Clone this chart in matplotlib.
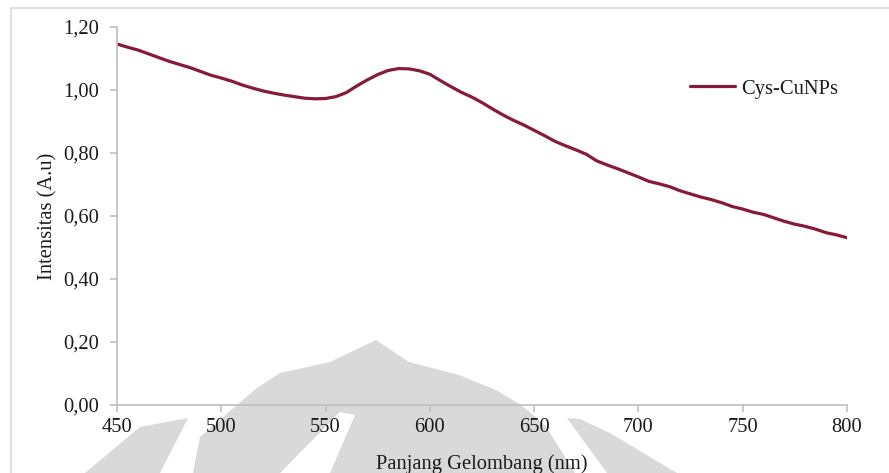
import matplotlib
matplotlib.use("Agg")
import matplotlib.pyplot as plt
from matplotlib.patches import Polygon
from matplotlib.lines import Line2D
from matplotlib.ticker import FuncFormatter, MultipleLocator

# UV-Vis absorption spectrum of cysteine-capped copper nanoparticles
wavelength = [450, 455, 460, 465, 470, 475, 480, 485, 490, 495,
              500, 505, 510, 515, 520, 525, 530, 535, 540, 545,
              550, 555, 560, 565, 570, 575, 580, 585, 590, 595,
              600, 605, 610, 615, 620, 625, 630, 635, 640, 645,
              650, 655, 660, 665, 670, 675, 680, 685, 690, 695,
              700, 705, 710, 715, 720, 725, 730, 735, 740, 745,
              750, 755, 760, 765, 770, 775, 780, 785, 790, 795, 800]
intensity = [1.146, 1.136, 1.127, 1.115, 1.103, 1.091, 1.081, 1.071, 1.059, 1.047,
             1.038, 1.028, 1.016, 1.006, 0.997, 0.990, 0.984, 0.979, 0.974, 0.972,
             0.973, 0.979, 0.992, 1.013, 1.032, 1.049, 1.062, 1.068, 1.067, 1.061,
             1.050, 1.030, 1.011, 0.993, 0.978, 0.960, 0.940, 0.921, 0.904, 0.889,
             0.872, 0.855, 0.837, 0.823, 0.810, 0.796, 0.775, 0.762, 0.750, 0.737,
             0.724, 0.710, 0.702, 0.693, 0.680, 0.670, 0.660, 0.652, 0.642, 0.630,
             0.622, 0.612, 0.605, 0.594, 0.583, 0.574, 0.567, 0.558, 0.547, 0.540, 0.531]
series_name = "Cys-CuNPs"
x_label = "Panjang Gelombang (nm)"
y_label = "Intensitas (A.u)"

W, H = 889, 473
plt.rcParams["font.family"] = ["Liberation Serif", "DejaVu Serif"]
plt.rcParams["font.size"] = 14.8

fig = plt.figure(figsize=(W / 100, H / 100), dpi=100)
fig.patch.set_facecolor("white")


def px(points):
    return [(x / W, 1 - y / H) for x, y in points]


# faint background emblem
emblem_color = "#d9d9d9"
emblem = [
    [(85, 473), (140, 427), (188, 418), (160, 473)],
    [(193, 473), (200, 437), (237, 405), (257, 388), (280, 373), (330, 362),
     (376, 340), (409, 362), (459, 375), (496, 390), (521, 405), (545, 425),
     (575, 473), (330, 473), (355, 415), (340, 412), (280, 473)],
    [(567, 418), (580, 419), (610, 433), (655, 460), (677, 473), (607, 473)],
]
for shape in emblem:
    fig.add_artist(Polygon(px(shape), closed=True, transform=fig.transFigure,
                           facecolor=emblem_color, edgecolor="none", zorder=-5))

# chart area border
border = "#d9d9d9"
fig.add_artist(Line2D([10.5 / W, 1.0], [1 - 8.5 / H, 1 - 8.5 / H],
                      transform=fig.transFigure, color=border, lw=1.2, zorder=-4))
fig.add_artist(Line2D([10.5 / W, 10.5 / W], [0.0, 1 - 8.5 / H],
                      transform=fig.transFigure, color=border, lw=1.2, zorder=-4))

ax = fig.add_axes([117 / W, 1 - 405 / H, (847 - 117) / W, (405 - 27) / H])
ax.set_facecolor("none")

line_color = "#861A38"
ax.plot(wavelength, intensity, color=line_color, lw=2.3, label=series_name,
        solid_capstyle="round")

ax.set_xlim(450, 800)
ax.set_ylim(0, 1.2)
ax.xaxis.set_major_locator(MultipleLocator(50))
ax.yaxis.set_major_locator(MultipleLocator(0.2))
ax.yaxis.set_major_formatter(FuncFormatter(lambda v, p: f"{v:.2f}".replace(".", ",")))

spine_color = "#bfbfbf"
for side in ("top", "right"):
    ax.spines[side].set_visible(False)
for side in ("left", "bottom"):
    ax.spines[side].set_color(spine_color)
    ax.spines[side].set_linewidth(1.2)
ax.tick_params(axis="both", direction="out", length=5, width=1.2, color=spine_color,
               labelcolor="#1a1a1a", labelsize=14.8)
ax.tick_params(axis="y", pad=8)
ax.tick_params(axis="x", pad=4.5)

ax.set_xlabel(x_label, fontsize=14.8, color="#1a1a1a", labelpad=12)
ax.set_ylabel(y_label, fontsize=14.8, color="#1a1a1a", labelpad=4)

leg = ax.legend(loc="upper left", bbox_to_anchor=((682 - 117) / (847 - 117), (405 - 71) / (405 - 27)),
                frameon=False, handlelength=2.2, handletextpad=0.3, borderaxespad=0,
                fontsize=14.8)
for t in leg.get_texts():
    t.set_color("#1a1a1a")

fig.savefig("out.png", dpi=100, facecolor="white")
